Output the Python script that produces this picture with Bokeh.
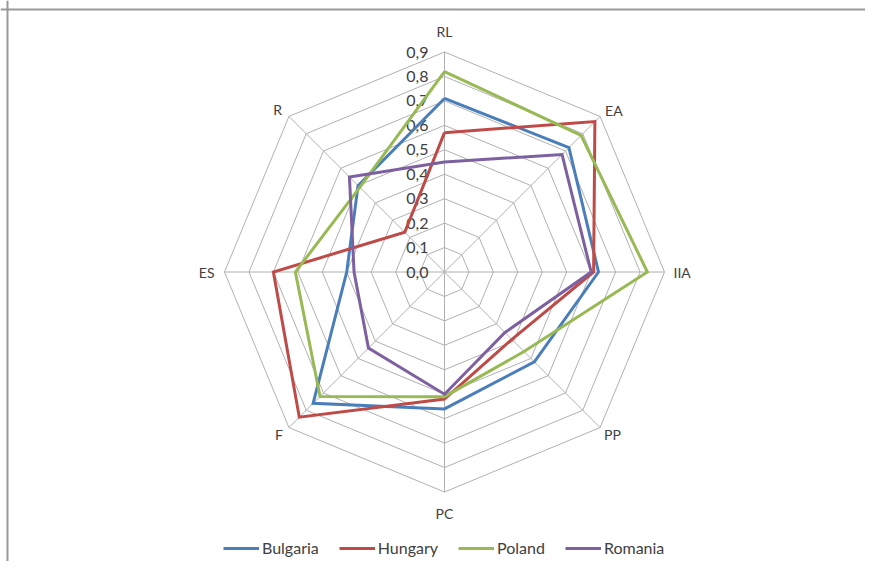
import numpy as np
from bokeh.plotting import figure
from bokeh.models import Range1d, Span, Legend, LegendItem
from bokeh.embed import file_html
from bokeh.resources import INLINE
from bokeh.core.properties import value

# ---- data ----
categories = ["RL", "EA", "IIA", "PP", "PC", "F", "ES", "R"]
bulgaria = [0.71, 0.72, 0.63, 0.52, 0.56, 0.76, 0.40, 0.50]
hungary = [0.57, 0.87, 0.61, 0.39, 0.52, 0.84, 0.70, 0.23]
poland = [0.82, 0.79, 0.83, 0.46, 0.51, 0.72, 0.61, 0.49]
romania = [0.45, 0.68, 0.60, 0.35, 0.50, 0.44, 0.37, 0.55]
series_names = ["Bulgaria", "Hungary", "Poland", "Romania"]
tick_values = [0.0, 0.1, 0.2, 0.3, 0.4, 0.5, 0.6, 0.7, 0.8, 0.9]
tick_labels = ["0,0", "0,1", "0,2", "0,3", "0,4", "0,5", "0,6", "0,7", "0,8", "0,9"]
axis_max = 0.9

colors = ["#4A7EBB", "#BE4B48", "#98B954", "#7D60A0"]
FONT = "Lato"
TEXT = "#404040"
GRID = "#B0B0B0"

W, H = 865, 561
CX, CY = 444, 271.5           # centre in figure pixels
PX = 220.0 / axis_max          # pixels per unit

p = figure(width=W, height=H, output_backend="svg", toolbar_location=None,
           x_range=Range1d(-CX / PX, (W - CX) / PX),
           y_range=Range1d(-(H - CY) / PX, CY / PX),
           min_border=0)
p.axis.visible = False
p.grid.visible = False
p.outline_line_color = None
p.background_fill_color = "white"
p.border_fill_color = "white"

n = len(categories)
ang = np.deg2rad(90 - 45 * np.arange(n))
ca, sa = np.cos(ang), np.sin(ang)

# rings
ring_xs, ring_ys = [], []
for lv in tick_values[1:]:
    ring_xs.append(list(np.append(lv * ca, lv * ca[0])))
    ring_ys.append(list(np.append(lv * sa, lv * sa[0])))
p.multi_line(ring_xs, ring_ys, line_color=GRID, line_width=1)

# spokes
p.multi_line([[0, axis_max * c] for c in ca], [[0, axis_max * s] for s in sa],
             line_color=GRID, line_width=1)

# value tick labels
p.text(x=[-16 / PX] * len(tick_values), y=tick_values, text=tick_labels,
       text_font=value(FONT), text_font_size="16px", text_color=TEXT,
       text_align="right", text_baseline="middle")

# category labels
offs = [(0, 21, "center"), (5, 6, "left"), (9, 0, "left"), (4, -7, "left"),
        (0, -21, "center"), (-6, -7, "right"), (-10, 0, "right"), (-7, 7, "right")]
for i, cat in enumerate(categories):
    dx, dy, al = offs[i]
    p.text(x=[axis_max * ca[i] + dx / PX], y=[axis_max * sa[i] + dy / PX], text=[cat],
           text_font=value(FONT), text_font_size="14px", text_color=TEXT,
           text_align=al, text_baseline="middle")

# series
items = []
for name, vals, col in zip(series_names, [bulgaria, hungary, poland, romania], colors):
    v = np.array(vals)
    xs = np.append(v * ca, v[0] * ca[0])
    ys = np.append(v * sa, v[0] * sa[0])
    r = p.line(xs, ys, line_color=col, line_width=3, line_join="miter")
    items.append(LegendItem(label=name, renderers=[r]))

legend = Legend(items=items, orientation="horizontal", location=(223, 4),
                glyph_width=36, glyph_height=16, label_standoff=3, spacing=20,
                padding=0, margin=0, border_line_color=None, background_fill_alpha=0,
                label_text_font=FONT, label_text_font_size="16px", label_text_color=TEXT)
p.add_layout(legend, "center")

# chart border (left and top edges visible)
p.add_layout(Span(location=-(CX - 7) / PX, dimension="height", line_color="#999999", line_width=2))
p.add_layout(Span(location=(CY - 9) / PX, dimension="width", line_color="#999999", line_width=2))

open("out.html", "w").write(file_html(p, INLINE))
